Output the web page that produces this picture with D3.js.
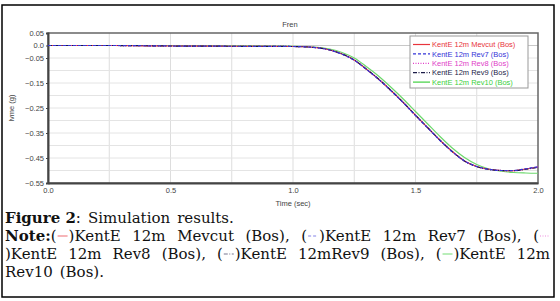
<!DOCTYPE html>
<html>
<head>
<meta charset="utf-8">
<script src="https://cdn.jsdelivr.net/npm/d3@7"></script>
<style>
  body { margin: 0; background: #fff; }
  svg { display: block; }
</style>
</head>
<body>
<div id="chart"></div>
<script>
// Data (time in sec, lvme in g)
const times    = [0, 0.25, 0.5, 0.75, 1.0, 1.1, 1.15, 1.2, 1.25, 1.3, 1.35, 1.4, 1.45, 1.5, 1.55, 1.6, 1.65, 1.7, 1.75, 1.8, 1.85, 1.9, 1.95, 2.0];
const mevcut   = [0, 0, -0.002, -0.003, -0.004, -0.009, -0.018, -0.034, -0.058, -0.095, -0.135, -0.18, -0.228, -0.279, -0.329, -0.379, -0.424, -0.462, -0.484, -0.495, -0.5, -0.501, -0.494, -0.486];
const rev7     = [0, 0, -0.002, -0.003, -0.004, -0.009, -0.018, -0.035, -0.059, -0.096, -0.136, -0.181, -0.229, -0.28, -0.33, -0.38, -0.425, -0.462, -0.484, -0.495, -0.5, -0.5, -0.493, -0.485];
const rev8     = [0, 0, -0.002, -0.003, -0.004, -0.009, -0.018, -0.034, -0.058, -0.095, -0.135, -0.18, -0.228, -0.279, -0.329, -0.379, -0.424, -0.462, -0.484, -0.495, -0.5, -0.501, -0.494, -0.486];
const rev9     = [0, 0, -0.002, -0.003, -0.004, -0.009, -0.018, -0.034, -0.058, -0.095, -0.135, -0.18, -0.228, -0.279, -0.329, -0.379, -0.424, -0.462, -0.485, -0.496, -0.5, -0.501, -0.495, -0.487];
const rev10    = [0, 0, 0, -0.001, -0.003, -0.007, -0.014, -0.028, -0.05, -0.085, -0.123, -0.167, -0.214, -0.264, -0.314, -0.364, -0.41, -0.448, -0.476, -0.494, -0.503, -0.508, -0.51, -0.511];
const seriesNames = ["KentE 12m Mevcut (Bos)", "KentE 12m Rev7 (Bos)", "KentE 12m Rev8 (Bos)", "KentE 12m Rev9 (Bos)", "KentE 12m Rev10 (Bos)"];
const yTicks = [0.05, 0.0, -0.05, -0.15, -0.25, -0.35, -0.45, -0.55];
const xTicks = [0, 0.5, 1.0, 1.5, 2.0];

const W = 560, H = 301;
const svg = d3.select("#chart").append("svg").attr("width", W).attr("height", H);

// outer frame
svg.append("rect").attr("x", 2).attr("y", 5).attr("width", 552).attr("height", 292)
    .attr("fill", "none").attr("stroke", "#000").attr("stroke-width", 1.5);

const margin = { top: 33, right: 538, bottom: 183, left: 48 };
const x = d3.scaleLinear().domain([0, 2]).range([margin.left, margin.right]);
const y = d3.scaleLinear().domain([-0.55, 0.05]).range([margin.bottom, margin.top]);

// grid
svg.append("g").selectAll("line").data(d3.range(0.25, 2, 0.25)).join("line")
    .attr("x1", d => x(d)).attr("x2", d => x(d))
    .attr("y1", margin.top).attr("y2", margin.bottom)
    .attr("stroke", "#ddd").attr("stroke-width", 1);
svg.append("g").selectAll("line").data(d3.range(-10, 1).map(i => i * 0.05)).join("line")
    .attr("x1", margin.left).attr("x2", margin.right)
    .attr("y1", d => y(d)).attr("y2", d => y(d))
    .attr("stroke", d => d === 0 ? "#c8c8c8" : "#e4e4e4").attr("stroke-width", 1);

// plot frame
svg.append("rect").attr("x", margin.left).attr("y", margin.top)
    .attr("width", margin.right - margin.left).attr("height", margin.bottom - margin.top)
    .attr("fill", "none").attr("stroke", "#666").attr("stroke-width", 1.5);

// axes
const fmtY = d => d === 0 ? "0.0" : d3.format(".2f")(d);
const yAxis = svg.append("g").attr("transform", `translate(${margin.left},0)`)
    .call(d3.axisLeft(y).tickValues(yTicks).tickFormat(fmtY).tickSize(2).tickPadding(2));
const xAxis = svg.append("g").attr("transform", `translate(0,${margin.bottom})`)
    .call(d3.axisBottom(x).tickValues(xTicks).tickFormat(d3.format(".1f")).tickSize(0).tickPadding(5));
[yAxis, xAxis].forEach(a => {
  a.select(".domain").attr("stroke", "#444").attr("stroke-width", 2);
  a.selectAll("text").attr("font-family", "Liberation Sans, Arial, sans-serif")
      .attr("font-size", 7.5).attr("fill", "#444");
  a.selectAll(".tick line").attr("stroke", "#444");
});

// titles
svg.append("text").attr("x", 290).attr("y", 27).attr("text-anchor", "middle")
    .attr("font-family", "Liberation Sans, Arial, sans-serif").attr("font-size", 7.5).attr("fill", "#444")
    .text("Fren");
svg.append("text").attr("x", 293).attr("y", 206).attr("text-anchor", "middle")
    .attr("font-family", "Liberation Sans, Arial, sans-serif").attr("font-size", 7.5).attr("fill", "#444")
    .text("Time (sec)");
svg.append("text").attr("transform", "translate(14,108) rotate(-90)").attr("text-anchor", "middle")
    .attr("font-family", "Liberation Sans, Arial, sans-serif").attr("font-size", 7.5).attr("fill", "#444")
    .text("lvme (g)");

// lines
const styles = [
  { color: "#e8343c", dash: null },
  { color: "#3434d8", dash: "3,2" },
  { color: "#e040c8", dash: "1,1.5" },
  { color: "#1c1c48", dash: "4,1.5,1,1.5" },
  { color: "#40d040", dash: null }
];
const allSeries = [mevcut, rev7, rev8, rev9, rev10];
const line = d3.line().x(d => x(d[0])).y(d => y(d[1])).curve(d3.curveMonotoneX);
const drawOrder = [4, 0, 2, 3, 1];
drawOrder.forEach(i => {
  svg.append("path")
      .datum(times.map((t, k) => [t, allSeries[i][k]]))
      .attr("d", line)
      .attr("fill", "none")
      .attr("stroke", i === 4 ? "#6cd86c" : styles[i].color)
      .attr("stroke-width", 1.2)
      .attr("stroke-dasharray", styles[i].dash);
});

// legend
const lg = svg.append("g");
lg.append("rect").attr("x", 410).attr("y", 36).attr("width", 118).attr("height", 52)
    .attr("fill", "#fff").attr("stroke", "#999").attr("stroke-width", 1);
seriesNames.forEach((name, i) => {
  const ly = 44.5 + i * 9.4;
  lg.append("line").attr("x1", 413).attr("x2", 430).attr("y1", ly).attr("y2", ly)
      .attr("stroke", styles[i].color).attr("stroke-width", 1.2).attr("stroke-dasharray", styles[i].dash);
  lg.append("text").attr("x", 432).attr("y", ly + 2.7)
      .attr("font-family", "Liberation Sans, Arial, sans-serif").attr("font-size", 7.5)
      .attr("fill", styles[i].color).text(name);
});

// caption, justified lines built from tokens
const capLines = [
  { y: 223, width: null, tokens: [{ t: "Figure 2", b: true, sp: false }, { t: ":" }, { t: "Simulation" }, { t: "results." }] },
  { y: 241, width: 546, tokens: [{ t: "Note:", b: true, sp: false }, { t: "(", sp: false }, { icon: 0, sp: false }, { t: ")KentE" }, { t: "12m" }, { t: "Mevcut" }, { t: "(Bos)," },
      { t: "(", sp: false }, { icon: 1, sp: false }, { t: ")KentE" }, { t: "12m" }, { t: "Rev7" }, { t: "(Bos)," }, { t: "(", sp: false }, { icon: 2, sp: false }] },
  { y: 259, width: 545, tokens: [{ t: ")KentE" }, { t: "12m" }, { t: "Rev8" }, { t: "(Bos)," }, { t: "(", sp: false }, { icon: 3, sp: false }, { t: ")KentE" }, { t: "12mRev9" }, { t: "(Bos)," },
      { t: "(", sp: false }, { icon: 4, sp: false }, { t: ")KentE" }, { t: "12m" }] },
  { y: 277, width: null, tokens: [{ t: "Rev10" }, { t: "(Bos)." }] }
];
const capFont = "DejaVu Serif, serif";
const capSize = 15;
const iconW = 12;
capLines.forEach(L => {
  const g = svg.append("g");
  const items = L.tokens.map(tok => {
    if (tok.icon !== undefined) return { tok, w: iconW };
    const el = g.append("text").attr("y", L.y).attr("font-family", capFont).attr("font-size", capSize)
        .attr("font-weight", tok.b ? "bold" : "normal").attr("fill", "#111").text(tok.t);
    return { tok, el, w: el.node().getComputedTextLength() };
  });
  const gaps = items.slice(0, -1).filter(it => it.tok.sp !== false).length;
  const total = d3.sum(items, d => d.w);
  const space = L.width ? (L.width - total) / gaps : 7;
  let cx = 5;
  items.forEach((it, k) => {
    if (it.el) it.el.attr("x", cx);
    else {
      const s = styles[it.tok.icon];
      g.append("line").attr("x1", cx + 1).attr("x2", cx + iconW - 1)
          .attr("y1", L.y - 5).attr("y2", L.y - 5)
          .attr("stroke", s.color).attr("stroke-opacity", 0.6).attr("stroke-width", 1.2)
          .attr("stroke-dasharray", s.dash);
    }
    cx += it.w;
    if (k < items.length - 1 && it.tok.sp !== false) cx += space;
  });
});
</script>
</body>
</html>
